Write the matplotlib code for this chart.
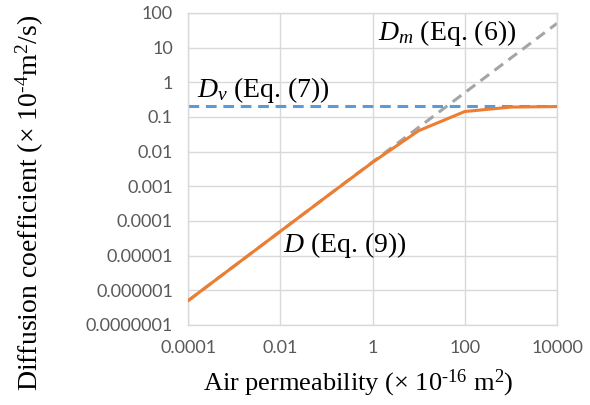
import matplotlib
matplotlib.use("Agg")
import matplotlib.pyplot as plt
from matplotlib.ticker import FixedLocator, FixedFormatter, NullLocator

# Data
permeability = [0.0001, 0.001, 0.01, 0.1, 1, 10, 100, 1000, 10000]
D_m = [5e-7, 5e-6, 5e-5, 5e-4, 5e-3, 0.05, 0.5, 5, 50]
D_v = [0.2, 0.2, 0.2, 0.2, 0.2, 0.2, 0.2, 0.2, 0.2]
D = [5e-7, 5e-6, 5e-5, 5e-4, 4.9e-3, 0.04, 0.143, 0.192, 0.199]

x_ticks = [0.0001, 0.01, 1, 100, 10000]
x_labels = ["0.0001", "0.01", "1", "100", "10000"]
y_ticks = [1e-7, 1e-6, 1e-5, 1e-4, 1e-3, 1e-2, 1e-1, 1, 10, 100]
y_labels = ["0.0000001", "0.000001", "0.00001", "0.0001", "0.001", "0.01", "0.1", "1", "10", "100"]

plt.rcParams["mathtext.fontset"] = "custom"
plt.rcParams["mathtext.rm"] = "Liberation Serif"
plt.rcParams["mathtext.it"] = "Liberation Serif:italic"

fig = plt.figure(figsize=(5.9, 4.05), dpi=100)
ax = fig.add_axes([0.319, 0.198, 0.625, 0.770])

grid_c = "#D9D9D9"
ax.set_xscale("log")
ax.set_yscale("log")
ax.set_xlim(0.0001, 10000)
ax.set_ylim(1e-7, 100)

ax.plot(permeability, D_m, color="#A5A5A5", lw=2.2, ls=(0, (3.5, 2.2)), zorder=2)
ax.plot(permeability, D_v, color="#5B9BD5", lw=2.2, ls=(0, (3.5, 2.2)), zorder=2)
ax.plot(permeability, D, color="#ED7D31", lw=2.2, zorder=3)

ax.xaxis.set_major_locator(FixedLocator(x_ticks))
ax.xaxis.set_major_formatter(FixedFormatter(x_labels))
ax.xaxis.set_minor_locator(NullLocator())
ax.yaxis.set_major_locator(FixedLocator(y_ticks))
ax.yaxis.set_major_formatter(FixedFormatter(y_labels))
ax.yaxis.set_minor_locator(NullLocator())
ax.grid(True, color=grid_c, lw=1.0, zorder=0)
ax.set_axisbelow(True)
for s in ax.spines.values():
    s.set_color(grid_c)
    s.set_linewidth(1.0)
ax.tick_params(length=0, labelsize=13, labelcolor="#595959", pad=11)
for lab in ax.get_xticklabels() + ax.get_yticklabels():
    lab.set_fontfamily("Lato")

serif = "Liberation Serif"
fig.text(358 / 590, 1 - 383 / 405, "Air permeability (\u00d7 10$^{\\text{-}16}$ m$^{2}$)",
         fontsize=19, family=serif, ha="center", va="center")
fig.text(30 / 590, 1 - 203 / 405, "Diffusion coefficient (\u00d7 10$^{\\text{-}4}$m$^{2}$/s)",
         fontsize=20, family=serif, ha="center", va="center", rotation=90)

ax.text(1.57e-4, 0.38, "$D_{v}$ (Eq. (7))", fontsize=20, family=serif, va="baseline", ha="left")
ax.text(1.32, 16.6, "$D_{m}$ (Eq. (6))", fontsize=20, family=serif, va="baseline", ha="left")
ax.text(0.0115, 1.28e-5, "$D$ (Eq. (9))", fontsize=20, family=serif, va="baseline", ha="left")

fig.savefig("out.png", dpi=100)
